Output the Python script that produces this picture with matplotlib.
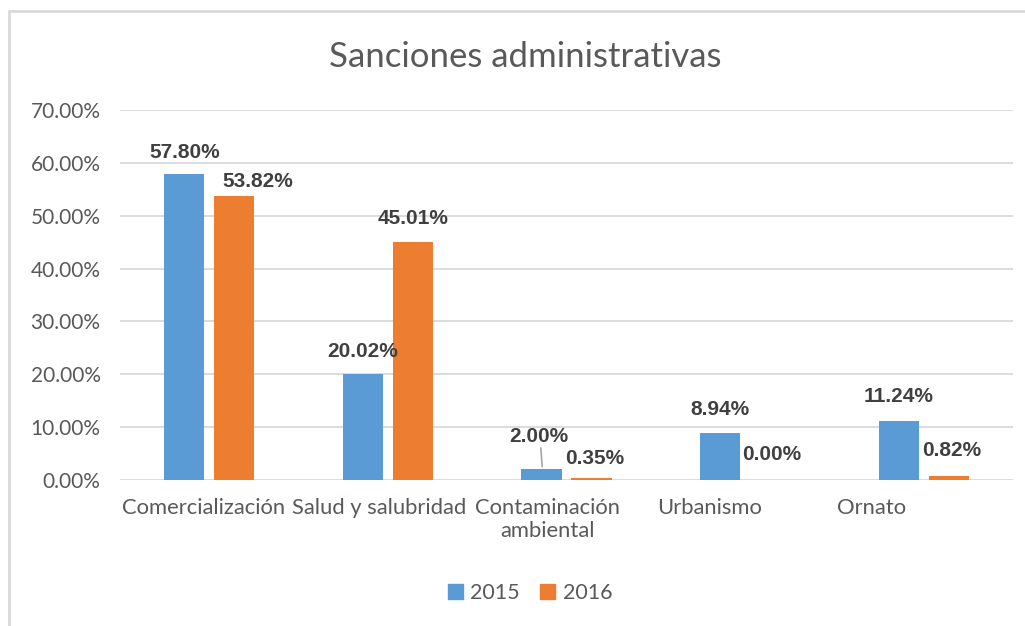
import matplotlib
matplotlib.use("Agg")
import matplotlib.pyplot as plt
import matplotlib.transforms as mtransforms
from matplotlib.patches import Rectangle, Patch
import numpy as np

categories = ["Comercialización", "Salud y salubridad", "Contaminación\nambiental", "Urbanismo", "Ornato"]
values_2015 = [57.80, 20.02, 2.00, 8.94, 11.24]
values_2016 = [53.82, 45.01, 0.35, 0.00, 0.82]
series_names = ["2015", "2016"]
yticks = [0, 10, 20, 30, 40, 50, 60, 70]

BLUE = "#5B9BD5"
ORANGE = "#ED7D31"
TEXT = "#595959"
GRID = "#D9D9D9"
FONT = "Lato"

fig = plt.figure(figsize=(10.25, 6.26), dpi=100)
ax = fig.add_axes([120 / 1025, 1 - 480 / 626, 893 / 1025, 370 / 626])

# chart border (screenshot is cropped at right and bottom)
fig.patches.append(Rectangle((9 / 1025, -0.1), 1.2, 1 - 11 / 626 + 0.1,
                             transform=fig.transFigure, fill=False,
                             edgecolor="#D9D9D9", linewidth=2))

x = np.arange(len(categories))
w = 0.225
off = 0.14
b1 = ax.bar(x - off, values_2015, w, color=BLUE, zorder=3)
b2 = ax.bar(x + off, values_2016, w, color=ORANGE, zorder=3)

ax.set_xlim(-0.5, len(categories) - 0.5)
ax.set_ylim(0, 70)
ax.set_yticks(yticks)
ax.set_yticklabels([f"{t:.2f}%" for t in yticks], fontsize=15, color=TEXT, family=FONT)
ax.tick_params(axis="y", length=0, pad=14)
ax.set_xticks([])
ax.grid(axis="y", color=GRID, linewidth=1.3, zorder=0)
for s in ax.spines.values():
    s.set_visible(False)

# category labels, left aligned in their slot like the original
trans = mtransforms.blended_transform_factory(ax.transData, ax.transAxes)
nudge = [0, -0.045, -0.02, 0, 0.005]
for i, c in enumerate(categories):
    ax.text(i - 0.49 + nudge[i], -0.048, c, transform=trans, ha="left", va="top",
            fontsize=15.8, color=TEXT, family=FONT, multialignment="center",
            linespacing=1.2)

# data labels (offsets in points, label positions as moved in the original)
off_2015 = [(0, 16), (0, 16), (-2, 24), (0, 17), (0, 17)]
off_2016 = [(17, 10), (0, 17), (2, 14), (1, 18), (2, 18)]
for bars, vals, offs in [(b1, values_2015, off_2015), (b2, values_2016, off_2016)]:
    for bar, v, (dx, dy) in zip(bars, vals, offs):
        ax.annotate(f"{v:.2f}%", (bar.get_x() + bar.get_width() / 2, v),
                    xytext=(dx, dy), textcoords="offset points",
                    ha="center", va="center", fontsize=15, fontweight="bold",
                    color="#404040", family="Liberation Sans", zorder=4)

# leader line for the 2.00% label
bar = b1[2]
ax.annotate("", xy=(bar.get_x() + bar.get_width() / 2 + 0.005, values_2015[2]),
            xytext=(bar.get_x() + bar.get_width() / 2 - 0.005, values_2015[2] + 4.6),
            arrowprops=dict(arrowstyle="-", color="#A6A6A6", lw=1.2), zorder=4)

fig.text(525 / 1025, 1 - 57 / 626, "Sanciones administrativas", ha="center", va="center",
         fontsize=25, color=TEXT, family=FONT)

handles = [Patch(color=BLUE), Patch(color=ORANGE)]
fig.legend(handles, series_names, loc="center", bbox_to_anchor=(530 / 1025, 1 - 593 / 626),
           ncol=2, frameon=False, handlelength=0.7, handleheight=0.7, handletextpad=0.35,
           columnspacing=0.95, prop={"family": FONT, "size": 15.5}, labelcolor=TEXT)

fig.savefig("out.png", dpi=100, facecolor="white")
